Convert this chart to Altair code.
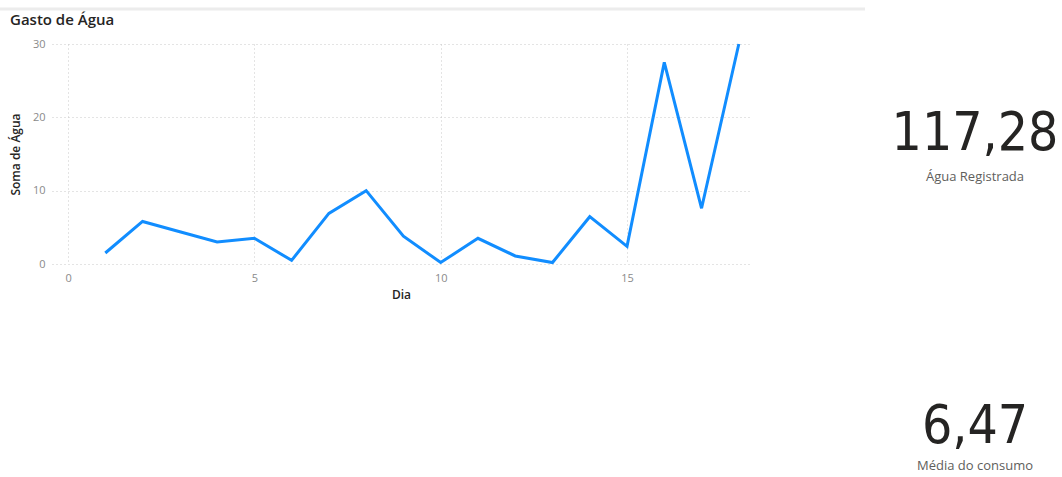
import altair as alt
import pandas as pd

dias = list(range(1, 19))
agua = [1.5, 5.8, 4.4, 3.0, 3.5, 0.5, 6.9, 10.0, 3.8, 0.2, 3.5, 1.1, 0.2, 6.45, 2.4, 27.5, 7.6, 30.0]
x_ticks = [0, 5, 10, 15]
y_ticks = [0, 10, 20, 30]
titulo = "Gasto de Água"
card_valores = ["117,28", "6,47"]
card_rotulos = ["Água Registrada", "Média do consumo"]

df = pd.DataFrame({"Dia": dias, "Soma de Água": agua})

W, H = 698, 220
L, T = 52, 44

line = alt.Chart(df).mark_line(color="#118DFF", strokeWidth=3, clip=False).encode(
    x=alt.X("Dia:Q",
            scale=alt.Scale(domain=[-0.43, 18.3], nice=False, zero=False),
            axis=alt.Axis(values=x_ticks, title="Dia", labelColor="#8a8a8a", labelFontSize=11,
                          labelPadding=8, titleFontSize=12, titleColor="#252423",
                          titleFontWeight=600, titlePadding=6,
                          domain=False, ticks=False, grid=True, gridDash=[1, 3],
                          gridColor="#c8c8c8", labelFont="Open Sans", titleFont="Open Sans")),
    y=alt.Y("Soma de Água:Q",
            scale=alt.Scale(domain=[0, 30], nice=False),
            axis=alt.Axis(values=y_ticks, title="Soma de Água", labelColor="#8a8a8a",
                          labelFontSize=11, labelPadding=7, titleFontSize=12,
                          titleColor="#252423", titleFontWeight=600, titlePadding=10,
                          domain=False, ticks=False, grid=True, gridDash=[1, 3],
                          gridColor="#c8c8c8", labelFont="Open Sans", titleFont="Open Sans")),
)

sep = alt.Chart(pd.DataFrame({"a": [0]})).mark_rule(color="#ececec", strokeWidth=3).encode(
    x=alt.value(-L), x2=alt.value(865 - L), y=alt.value(9 - T)
)

title = alt.Chart(pd.DataFrame({"t": [titulo]})).mark_text(
    align="left", baseline="alphabetic", fontSize=15, font="Open Sans", fontWeight=600,
    color="#252423"
).encode(text="t:N", x=alt.value(10 - L), y=alt.value(25 - T))

card_df = pd.DataFrame({
    "v": card_valores,
    "r": card_rotulos,
    "xv": [975 - L, 975 - L],
    "yv": [150 - T, 443 - T],
    "yr": [181 - T, 470 - T],
})

vals = alt.Chart(card_df).mark_text(
    align="center", baseline="alphabetic", fontSize=53, font="DejaVu Sans Condensed", color="#252423"
).encode(text="v:N", x=alt.X("xv:Q", scale=None), y=alt.Y("yv:Q", scale=None))

rots = alt.Chart(card_df).mark_text(
    align="center", baseline="alphabetic", fontSize=13, font="Open Sans", color="#605E5C"
).encode(text="r:N", x=alt.X("xv:Q", scale=None), y=alt.Y("yr:Q", scale=None))

chart = alt.layer(sep, line, title, vals, rots).properties(
    width=W, height=H,
    autosize=alt.AutoSizeParams(type="none"),
    padding={"left": L, "top": T, "right": 1062 - L - W, "bottom": 477 - T - H},
).configure_view(stroke=None)

chart.save("out.html", embed_options={"renderer": "svg", "actions": False})
